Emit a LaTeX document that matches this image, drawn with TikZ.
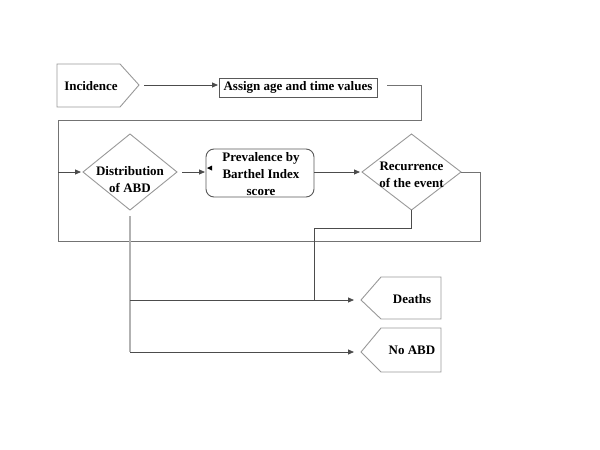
\documentclass[tikz,border=0pt]{standalone}
\usepackage{fontspec}
\setmainfont{Liberation Serif}
\usetikzlibrary{arrows.meta}
\definecolor{lineC}{gray}{0.3}
\definecolor{loopC}{gray}{0.45}
\definecolor{shapeC}{gray}{0.6}
\definecolor{boxC}{gray}{0.35}
\tikzset{
  lbl/.style={font=\fontsize{13}{17}\selectfont\bfseries, align=center, inner sep=0pt},
  conn/.style={draw=lineC, line width=0.8pt},
  loopline/.style={draw=loopC, line width=0.8pt},
  arr/.style={conn, -{Triangle[length=6pt,width=5pt]}},
  shp/.style={draw=shapeC, line width=0.9pt},
  boxshp/.style={draw=boxC, line width=0.9pt},
}
\begin{document}
\begin{tikzpicture}[x=1pt,y=-1pt]
\useasboundingbox (0,0) rectangle (600,450);
\fill[white] (0,0) rectangle (600,450);
% Incidence
\draw[shp] (57,64) -- (120,64) -- (139,85) -- (120,107) -- (57,107) -- cycle;
\node[lbl] (inc) at (91,86) {Incidence};
\coordinate (incE) at (144,85);
% Assign box
\draw[boxshp] (219,78) rectangle (377,97);
\node[lbl] (asg) at (298,87.5) {Assign age and time values};
\coordinate (asgW) at (218,85);
\coordinate (asgE) at (387,85);
% Distribution diamond
\draw[shp] (83,172) -- (130,134) -- (177,172) -- (130,210) -- cycle;
\node[lbl] (dist) at (130,180) {Distribution\\of ABD};
\coordinate (distW) at (81,172);
\coordinate (distE) at (182,172);
\coordinate (distS) at (130,216);
% Prevalence box
\draw[boxshp, rounded corners=8pt] (206,149) rectangle (314,197);
\node[lbl] (prev) at (261,174) {Prevalence by\\Barthel Index\\score};
\coordinate (prevW) at (205,172);
\coordinate (prevE) at (314,172);
% Recurrence diamond
\draw[shp] (362,172) -- (411.5,134) -- (461,172) -- (411.5,210) -- cycle;
\node[lbl] (rec) at (411.5,175) {Recurrence\\of the event};
\coordinate (recW) at (360,172);
\coordinate (recE) at (461,172);
\coordinate (recS) at (411.5,210);
% Deaths
\draw[shp] (361,300) -- (381,277) -- (441,277) -- (441,319) -- (381,319) -- cycle;
\node[lbl] (dea) at (412,299) {Deaths};
\coordinate (deaW) at (354,300);
% No ABD
\draw[shp] (361,352) -- (381,328) -- (441,328) -- (441,372) -- (381,372) -- cycle;
\node[lbl] (noabd) at (412,350) {No ABD};
\coordinate (noW) at (354,352);
% connectors
\draw[arr] (incE) -- (asgW);
\coordinate (loopA) at (421,120);
\coordinate (loopB) at (58,120);
\coordinate (loopC) at (58,241);
\coordinate (loopD) at (480,241);
\coordinate (loopE) at (480,172);
\draw[loopline] (asgE) -| (loopA) -- (loopB) -- (loopC) -- (loopD) -- (loopE) -- (recE);
\draw[arr] (58,172) -- (distW);
\draw[arr] (distE) -- (prevW);
\fill[black] (207,168) -- (212,165.5) -- (212,170.5) -- cycle;
\draw[arr] (prevE) -- (recW);
\coordinate (recBend) at (314,228);
\coordinate (recJoin) at (314,300);
\draw[conn] (recS) |- (recBend) -- (recJoin);
\draw[draw=gray!60, line width=1.4pt] (distS) -- (130,352);
\draw[arr] (130,352) -- (noW);
\draw[arr] (130,300) -- (deaW);
\end{tikzpicture}
\end{document}
